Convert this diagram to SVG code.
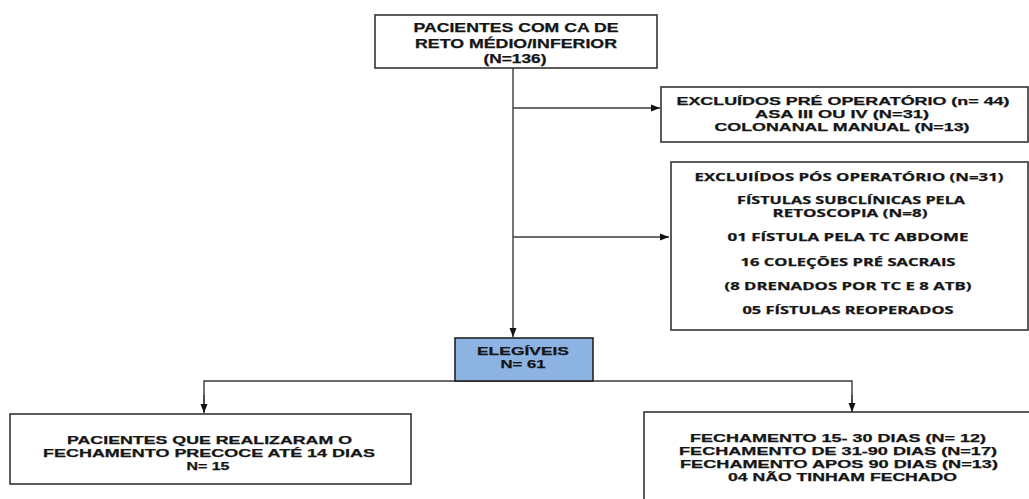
<svg xmlns="http://www.w3.org/2000/svg" width="1029" height="499" viewBox="0 0 1029 499">
<defs>
<style>
.box{fill:#fff;stroke:#333;stroke-width:1.6}
.blue{fill:#8db3e2;stroke:#222;stroke-width:1.6}
.t{font-family:"Liberation Sans",Arial,sans-serif;font-weight:bold;fill:#151515;stroke:#151515;stroke-width:0.25;text-anchor:middle}
.c{font-family:"Open Sans","Noto Sans",sans-serif;font-weight:bold;fill:#151515;stroke:#151515;stroke-width:0.25;text-anchor:middle}
.ln{fill:none;stroke:#3a3a3a;stroke-width:1.4}
</style>
<marker id="ah" markerWidth="10" markerHeight="8" refX="9" refY="4" orient="auto" markerUnits="userSpaceOnUse">
<path d="M0,0.5 L9,4 L0,7.5 Z" fill="#111"/>
</marker>
</defs>
<rect width="1029" height="499" fill="#fff"/>
<g id="connectors">
<line class="ln" x1="513" y1="68" x2="513" y2="337" marker-end="url(#ah)"/>
<line class="ln" x1="513" y1="108" x2="660" y2="108" marker-end="url(#ah)"/>
<line class="ln" x1="513" y1="237" x2="669" y2="237" marker-end="url(#ah)"/>
<polyline class="ln" points="204,412 204,381 852,381 852,411"/>
<line class="ln" x1="204" y1="395" x2="204" y2="413" marker-end="url(#ah)"/>
<line class="ln" x1="852" y1="395" x2="852" y2="412" marker-end="url(#ah)"/>
</g>
<g id="n1">
<rect class="box" x="375" y="15" width="282" height="53"/>
<text class="t" font-size="12" x="516" y="31.5" textLength="205" lengthAdjust="spacingAndGlyphs">PACIENTES COM CA DE</text>
<text class="t" font-size="12" x="516" y="47.5" textLength="202" lengthAdjust="spacingAndGlyphs">RETO MÉDIO/INFERIOR</text>
<text class="t" font-size="12" x="515" y="63" textLength="63" lengthAdjust="spacingAndGlyphs">(N=136)</text>
</g>
<g id="n2">
<rect class="box" x="661" y="87" width="367" height="55"/>
<text class="t" font-size="11" x="843" y="105" textLength="333" lengthAdjust="spacingAndGlyphs">EXCLUÍDOS PRÉ OPERATÓRIO (n= 44)</text>
<text class="t" font-size="11" x="842" y="118" textLength="174" lengthAdjust="spacingAndGlyphs">ASA III OU IV  (N=31)</text>
<text class="t" font-size="11" x="842" y="131" textLength="255" lengthAdjust="spacingAndGlyphs">COLONANAL MANUAL  (N=13)</text>
</g>
<g id="n3">
<rect class="box" x="671" y="162" width="357" height="168"/>
<text class="c" font-size="10.8" x="849" y="181" textLength="309" lengthAdjust="spacingAndGlyphs">EXCLUIÍDOS PÓS OPERATÓRIO  (N=31)</text>
<text class="c" font-size="10.8" x="851" y="204" textLength="228" lengthAdjust="spacingAndGlyphs">FÍSTULAS SUBCLÍNICAS PELA</text>
<text class="c" font-size="10.8" x="850" y="217" textLength="155" lengthAdjust="spacingAndGlyphs">RETOSCOPIA (N=8)</text>
<text class="c" font-size="10.8" x="848" y="241" textLength="241" lengthAdjust="spacingAndGlyphs">01 FÍSTULA PELA TC ABDOME</text>
<text class="c" font-size="10.8" x="848" y="266" textLength="215" lengthAdjust="spacingAndGlyphs">16 COLEÇÕES PRÉ SACRAIS</text>
<text class="c" font-size="10.8" x="848" y="290" textLength="247" lengthAdjust="spacingAndGlyphs">(8 DRENADOS POR TC E 8 ATB)</text>
<text class="c" font-size="10.8" x="848" y="314" textLength="211" lengthAdjust="spacingAndGlyphs">05 FÍSTULAS REOPERADOS</text>
</g>
<g id="n4">
<rect class="blue" x="455" y="338" width="138" height="43"/>
<text class="t" font-size="11.5" x="523" y="355" textLength="92" lengthAdjust="spacingAndGlyphs">ELEGÍVEIS</text>
<text class="t" font-size="11.5" x="523" y="367.5" textLength="45" lengthAdjust="spacingAndGlyphs">N= 61</text>
</g>
<g id="n5">
<rect class="box" x="10" y="414" width="401" height="70"/>
<text class="t" font-size="11" x="209.5" y="444" textLength="285" lengthAdjust="spacingAndGlyphs">PACIENTES QUE REALIZARAM O</text>
<text class="t" font-size="11" x="209" y="457" textLength="332" lengthAdjust="spacingAndGlyphs">FECHAMENTO PRECOCE ATÉ 14 DIAS</text>
<text class="t" font-size="11" x="208" y="470" textLength="43" lengthAdjust="spacingAndGlyphs">N= 15</text>
</g>
<g id="n6">
<rect class="box" x="644" y="412" width="390" height="100"/>
<text class="t" font-size="11" x="838" y="442" textLength="296" lengthAdjust="spacingAndGlyphs">FECHAMENTO 15- 30 DIAS (N= 12)</text>
<text class="t" font-size="11" x="838" y="455" textLength="318" lengthAdjust="spacingAndGlyphs">FECHAMENTO DE 31-90 DIAS (N=17)</text>
<text class="t" font-size="11" x="839" y="468" textLength="318" lengthAdjust="spacingAndGlyphs">FECHAMENTO APOS 90 DIAS (N=13)</text>
<text class="t" font-size="11" x="842.5" y="481" textLength="229" lengthAdjust="spacingAndGlyphs">04 NÃO TINHAM FECHADO</text>
</g>
</svg>
